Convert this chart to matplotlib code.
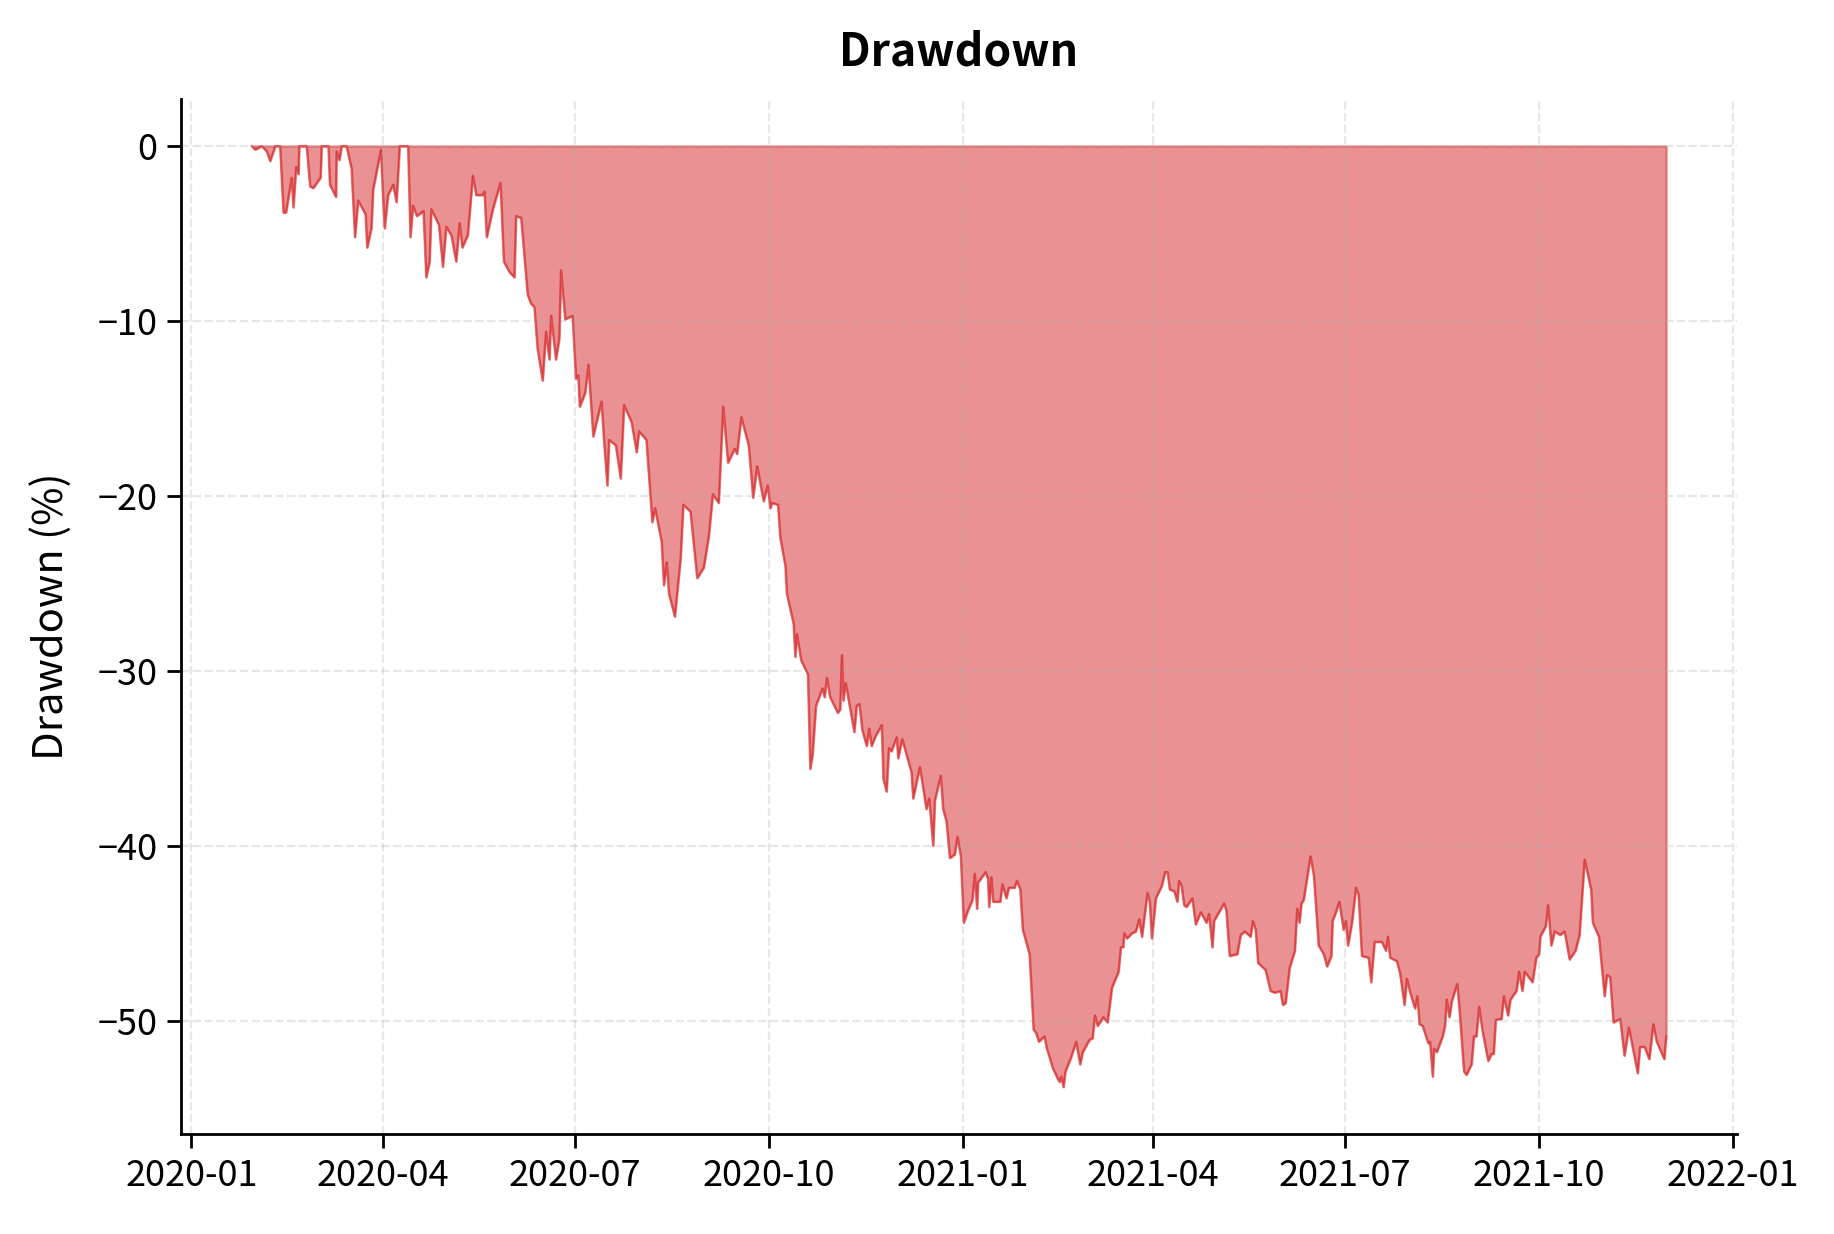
import matplotlib
matplotlib.use("Agg")
import matplotlib.pyplot as plt
import pandas as pd
import numpy as np

plt.rcParams['font.family'] = ['Noto Sans CJK JP', 'DejaVu Sans']
plt.rcParams['axes.unicode_minus'] = True

start_date = "2020-01-01"

# days since start_date
day_offset = [
    28.6, 30.2, 33.3, 35.7, 37.3, 39.7, 42.0, 43.6, 44.8, 47.5, 48.3, 49.6, 50.7, 51.1,
    54.6, 56.2, 57.7, 61.2, 61.7, 64.9, 65.6, 68.5, 68.8, 70.1, 71.2, 73.5, 75.9, 77.5,
    79.0, 82.5, 83.3, 85.3, 86.1, 89.8, 90.9, 91.6, 93.2, 95.6, 97.2, 98.7, 102.7, 103.8,
    105.0, 106.9, 110.0, 111.3, 112.9, 113.7, 117.3, 119.2, 120.8, 123.2, 125.5, 127.1,
    128.4, 131.0, 133.4, 135.0, 138.1, 138.9, 140.0, 142.9, 146.5, 148.1, 150.8, 153.1,
    153.9, 156.3, 159.4, 161.0, 162.6, 164.1, 166.5, 168.1, 169.7, 170.5, 172.8, 174.4,
    175.2, 177.2, 180.7, 182.3, 183.4, 184.1, 186.7, 188.2, 190.5, 194.4, 195.7, 197.2,
    198.0, 201.2, 203.5, 205.1, 208.7, 211.1, 212.2, 215.7, 218.5, 219.8, 222.9, 224.0,
    225.3, 226.4, 229.2, 231.9, 233.2, 236.6, 239.8, 242.9, 245.3, 247.2, 250.0, 252.1,
    254.4, 257.6, 258.7, 260.7, 264.2, 266.3, 268.2, 271.3, 273.2, 274.5, 275.3, 278.1,
    279.2, 281.6, 282.3, 285.5, 286.3, 287.1, 289.1, 292.3, 293.4, 294.5, 296.1, 299.2,
    300.2, 301.3, 302.8, 306.5, 307.6, 308.4, 309.1, 310.2, 314.3, 315.4, 316.7, 318.1,
    320.2, 321.3, 322.5, 324.1, 327.3, 328.1, 329.6, 330.7, 331.9, 334.4, 335.1, 337.0,
    341.4, 342.2, 345.4, 348.5, 349.8, 351.7, 352.5, 355.3, 356.4, 358.0, 359.6, 361.9,
    363.2, 364.8, 366.2, 368.2, 370.3, 371.4, 372.5, 373.0, 376.6, 377.7, 378.2, 379.3,
    380.1, 383.5, 384.5, 386.4, 387.6, 390.3, 391.4, 393.0, 394.2, 397.4, 399.3, 400.5,
    401.8, 404.5, 405.6, 406.9, 408.4, 410.3, 411.6, 412.4, 413.5, 414.4, 417.1, 419.5,
    421.4, 422.6, 425.8, 427.3, 428.4, 429.7, 432.4, 434.4, 436.5, 439.6, 440.7, 441.8,
    442.3, 443.6, 446.0, 447.8, 449.4, 450.7, 453.3, 454.4, 455.4, 457.3, 460.1, 461.7,
    462.8, 463.9, 466.0, 467.5, 468.3, 469.5, 470.7, 471.8, 474.6, 476.2, 478.6, 481.3,
    482.5, 484.1, 484.9, 489.6, 490.7, 492.3, 495.9, 497.5, 499.5, 502.2, 503.3, 504.6,
    505.8, 509.3, 511.7, 513.7, 516.4, 517.5, 518.8, 520.7, 523.2, 524.3, 525.4, 526.3,
    527.4, 530.6, 532.2, 534.5, 536.9, 538.5, 540.5, 541.1, 542.4, 544.3, 546.3, 547.4,
    548.4, 550.3, 552.2, 553.4, 555.0, 558.2, 559.4, 561.0, 564.5, 566.4, 567.3, 568.4,
    571.6, 573.1, 575.2, 576.3, 577.9, 580.2, 581.3, 582.3, 583.8, 586.5, 587.3, 588.6,
    589.2, 590.5, 593.3, 594.4, 595.2, 596.5, 597.6, 600.2, 601.5, 603.4, 604.6, 607.0,
    608.1, 609.3, 610.6, 612.2, 614.9, 616.5, 617.5, 618.5, 621.2, 622.3, 624.3, 625.4,
    628.3, 629.5, 631.1, 632.2, 635.9, 637.7, 639.0, 639.6, 642.2, 643.3, 644.8, 646.4,
    649.1, 651.1, 653.5, 656.3, 658.2, 660.6, 663.7, 664.5, 667.4, 670.1, 671.2, 672.7,
    674.3, 677.5, 679.5, 681.6, 685.8, 686.9, 689.0, 691.3, 693.2, 694.8, 698.4, 699.3,
]

drawdown_pct = [
    0.0, -0.2, 0.0, -0.3, -0.85, 0.0, 0.0, -3.8, -3.8, -1.8, -3.5, -1.2, -1.6, 0.0,
    0.0, -2.3, -2.4, -1.8, 0.0, 0.0, -2.2, -2.9, -0.3, -0.8, 0.0, 0.0, -1.3, -5.2,
    -3.1, -3.9, -5.8, -4.7, -2.5, -0.2, -3.2, -4.7, -2.8, -2.2, -3.2, 0.0, 0.0, -5.2,
    -3.4, -4.0, -3.7, -7.5, -6.6, -3.6, -4.5, -6.9, -4.6, -5.1, -6.6, -4.4,
    -5.8, -5.1, -1.7, -2.8, -2.8, -2.6, -5.2, -3.6, -2.1, -6.6, -7.2, -7.5,
    -4.0, -4.1, -8.5, -9.0, -9.2, -11.6, -13.4, -10.6, -12.2, -9.7, -12.2, -11.0,
    -7.1, -9.9, -9.7, -13.3, -13.1, -14.9, -14.1, -12.5, -16.6, -14.6, -17.0, -19.4,
    -16.8, -17.1, -19.0, -14.8, -15.8, -17.5, -16.3, -16.8, -21.5, -20.7, -22.6, -25.1,
    -23.8, -25.6, -26.9, -23.6, -20.5, -20.9, -24.7, -24.1, -22.3, -19.9, -20.4, -14.9,
    -18.1, -17.3, -17.6, -15.5, -17.1, -20.1, -18.3, -20.3, -19.4, -20.7, -20.4, -20.5,
    -22.4, -24.0, -25.6, -27.3, -29.2, -27.9, -29.4, -30.2, -35.6, -34.8, -32.0, -31.0,
    -31.5, -30.4, -31.5, -32.4, -32.2, -29.1, -31.7, -30.7, -33.5, -32.0, -31.9, -33.4,
    -34.3, -33.3, -34.3, -33.8, -33.1, -36.2, -36.9, -34.4, -34.6, -33.8, -35.0, -33.9,
    -35.8, -37.3, -35.5, -37.9, -37.3, -40.0, -37.4, -36.0, -37.9, -38.6, -40.7, -40.5,
    -39.5, -40.6, -44.4, -43.7, -43.1, -41.6, -43.6, -42.1, -41.5, -41.9, -43.5, -41.8,
    -43.2, -43.2, -42.2, -43.0, -42.4, -42.4, -42.0, -42.5, -44.8, -46.2, -50.5, -50.7,
    -51.2, -50.9, -51.6, -52.1, -52.7, -53.2, -53.5, -53.2, -53.8, -52.9, -52.1, -51.2,
    -52.5, -51.8, -51.1, -51.0, -49.7, -50.3, -49.8, -50.1, -48.1, -47.2, -45.8, -45.8,
    -45.0, -45.3, -45.0, -44.9, -44.2, -45.2, -42.7, -43.2, -45.3, -43.0, -42.3, -41.5,
    -41.5, -42.5, -42.6, -43.2, -42.0, -42.3, -43.4, -43.5, -43.0, -44.5, -43.8, -44.4,
    -43.9, -45.8, -44.3, -43.3, -43.7, -46.3, -46.2, -45.1, -44.9, -45.2, -44.3, -44.8,
    -46.7, -47.1, -48.3, -48.4, -48.3, -49.1, -49.0, -47.0, -46.0, -43.6, -44.4, -43.3,
    -43.1, -40.6, -41.7, -45.7, -46.2, -46.9, -46.3, -44.3, -43.9, -43.2, -44.8, -44.3,
    -45.7, -44.4, -42.4, -42.8, -46.3, -46.4, -47.8, -45.5, -45.5, -46.0, -45.2, -46.4,
    -46.6, -47.3, -49.1, -47.6, -48.4, -49.3, -48.6, -50.2, -50.3, -51.3, -51.2, -53.2,
    -51.6, -51.8, -50.9, -50.3, -48.8, -49.8, -48.9, -47.9, -49.7, -52.9, -53.1, -52.5,
    -50.9, -50.9, -49.2, -50.6, -52.3, -51.9, -51.9, -49.95, -49.9, -48.6, -49.7, -48.8,
    -48.3, -47.2, -48.3, -47.2, -47.8, -46.4, -46.2, -45.2, -44.6, -43.4, -45.7, -44.9,
    -45.1, -44.9, -46.5, -46.0, -45.1, -40.8, -42.5, -44.4, -45.2, -48.6, -47.4, -47.5,
    -50.1, -49.9, -52.0, -50.4, -53.0, -51.5, -51.5, -52.2, -50.2, -51.2, -52.2, -50.9,
]

dates = pd.Timestamp(start_date) + pd.to_timedelta(np.array(day_offset), unit="D")
dd = np.array(drawdown_pct)

fig = plt.figure(figsize=(9.17, 6.17), dpi=200)
ax = fig.add_axes([0.0987, 0.081, 0.8483, 0.8388])

ax.fill_between(dates, dd, 0, color="#d62728", alpha=0.5, linewidth=0.8)
ax.plot(dates, dd, color="#d62728", alpha=0.55, linewidth=0.8)

ax.set_title("Drawdown", fontsize=16, fontweight="bold", pad=12)
ax.set_ylabel("Drawdown (%)", fontsize=15, labelpad=9)
ax.grid(True, linestyle="--", alpha=0.3)
ax.spines["top"].set_visible(False)
ax.spines["right"].set_visible(False)
ax.spines["left"].set_linewidth(1.0)
ax.spines["bottom"].set_linewidth(1.0)
ax.tick_params(axis="both", labelsize=13, length=5, width=1.0)

fig.savefig("out.png", dpi=200)
